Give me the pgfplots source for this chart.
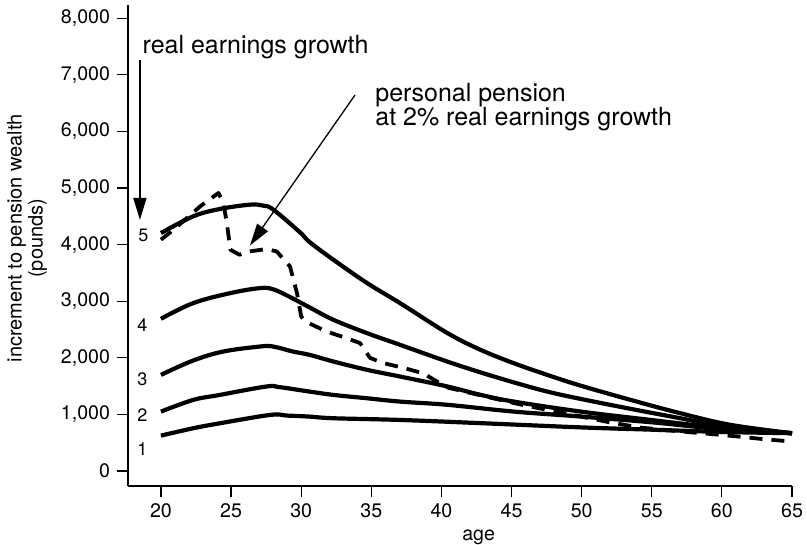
\documentclass[border=0pt]{standalone}
\usepackage{fontspec}
\setmainfont{TeX Gyre Heros}
\usepackage{pgfplots}
\pgfplotsset{compat=1.18}
\usetikzlibrary{arrows.meta}

\begin{document}
\begin{tikzpicture}
\begin{axis}[
  name=ax,
  scale only axis,
  width=332bp, height=240.5bp,
  xmin=17.65, xmax=65, ymin=-265, ymax=8233,
  axis x line=bottom, axis y line=left,
  axis line style={-, line width=0.6bp},
  xtick={20,25,...,65}, ytick={0,1000,...,8000},
  tick align=outside, major tick length=5.5bp,
  every tick/.style={black, line width=0.6bp},
  /pgf/number format/assume math mode=true,
  /pgf/number format/1000 sep={,},
  tick label style={font=\fontsize{9.8bp}{11bp}\selectfont},
  xlabel={age},
  ylabel={increment to pension wealth\\(pounds)},
  xlabel style={font=\fontsize{9.8bp}{11bp}\selectfont, at={(axis description cs:0.528,-0.107)}, anchor=center},
  ylabel style={font=\fontsize{10bp}{10.5bp}\selectfont, align=center, at={(axis description cs:-0.152,0.515)}, anchor=center},
  clip=false,
]
% curve 5
\addplot[black, line width=2.1bp, smooth, tension=0.6] coordinates {
(20,4204) (22.3,4499) (24.2,4629) (26.35,4705) (27.3,4688) (28,4620) (29.9,4220) (30.6,4045)
(32.3,3732) (34.7,3320) (37.05,2966) (40.4,2441) (42.75,2145) (45.1,1910)
(47.5,1702) (49.9,1510) (53.45,1259) (57,1023) (60.6,816) (65,668)};
% curve 4
\addplot[black, line width=2.1bp, smooth, tension=0.6] coordinates {
(20,2689) (22.3,2966) (24.95,3143) (27.06,3231) (28,3210) (29.2,3074) (30.6,2890)
(32.3,2671) (34.7,2435) (37.05,2229) (40.4,1935) (42.75,1745) (45.1,1570)
(47.5,1406) (49.9,1275) (53.45,1100) (57,934) (60.6,770) (65,668)};
% curve 3
\addplot[black, line width=2.1bp, smooth, tension=0.6] coordinates {
(20,1698) (22.3,1952) (24.45,2111) (27.06,2199) (28,2199) (29.4,2111) (30.6,2052) (32.3,1934)
(34.7,1787) (37.05,1669) (40.4,1495) (42.75,1348) (45.1,1229) (49.9,1051)
(55,900) (60,760) (65,668)};
% curve 2
\addplot[black, line width=2.1bp, smooth, tension=0.6] coordinates {
(20,1049) (22.3,1256) (24.2,1344) (27.5,1492) (28.5,1480) (30.6,1403) (32.3,1344) (34.7,1285)
(37.05,1226) (40.4,1170) (45.1,1051) (49.9,963) (55,860) (60,740) (65,668)};
% curve 1
\addplot[black, line width=2.1bp, smooth, tension=0.6] coordinates {
(20,625) (22.3,755) (24.2,843) (27.8,991) (29,979) (30.6,961) (32.3,932) (37.05,902)
(42.75,846) (50,770) (55,730) (60,690) (65,668)};
% personal pension (dashed)
\addplot[black, line width=1.9bp, dash pattern=on 6.5bp off 4.5bp, line join=round] coordinates {
(20,4086) (20.9,4263) (22.8,4676) (24.1,4912) (24.45,4735) (24.7,4381) (24.95,3909) (25.6,3821)
(26.35,3880) (27.5,3921) (28.25,3880) (29.2,3614) (29.7,3143) (30,2730) (30.3,2641) (31.8,2465)
(33.2,2350) (34.2,2260) (34.9,2000) (35.8,1910) (37.3,1821) (38.7,1726) (39.5,1608) (40.5,1470)
(42.75,1340) (44.65,1229) (46.3,1140) (48.2,1051) (50,960) (52,860) (54.2,767) (57,700)
(59.4,650) (61.2,608) (63,562) (65,520)};

\node[anchor=base west, inner sep=0pt, font=\fontsize{12.5bp}{14bp}\selectfont] at (axis cs:18.67,7380) {real earnings growth};
\node[anchor=base west, inner sep=0pt, font=\fontsize{12.5bp}{14bp}\selectfont] at (axis cs:35.26,6525) {personal pension};
\node[anchor=base west, inner sep=0pt, font=\fontsize{12.5bp}{14bp}\selectfont] at (axis cs:35.26,6103) {at 2\% real earnings growth};
\draw[line width=0.65bp, -{Triangle[length=11bp,width=6.5bp]}] (axis cs:18.5,7261) -- (axis cs:18.5,4435);
\draw[line width=0.65bp, -{Triangle[length=11bp,width=6.5bp]}] (axis cs:33.84,6643) -- (axis cs:26.35,3984);

\node[inner sep=0pt, font=\fontsize{9bp}{10bp}\selectfont] at (axis cs:18.74,4155) {5};
\node[inner sep=0pt, font=\fontsize{9bp}{10bp}\selectfont] at (axis cs:18.67,2574) {4};
\node[inner sep=0pt, font=\fontsize{9bp}{10bp}\selectfont] at (axis cs:18.67,1620) {3};
\node[inner sep=0pt, font=\fontsize{9bp}{10bp}\selectfont] at (axis cs:18.67,989) {2};
\node[inner sep=0pt, font=\fontsize{9bp}{10bp}\selectfont] at (axis cs:18.67,383) {1};
\end{axis}
\pgfresetboundingbox
\path[use as bounding box] ([shift={(-64bp,-29.5bp)}]ax.south west) rectangle ([shift={(7.5bp,2.5bp)}]ax.north east);
\end{tikzpicture}
\end{document}
